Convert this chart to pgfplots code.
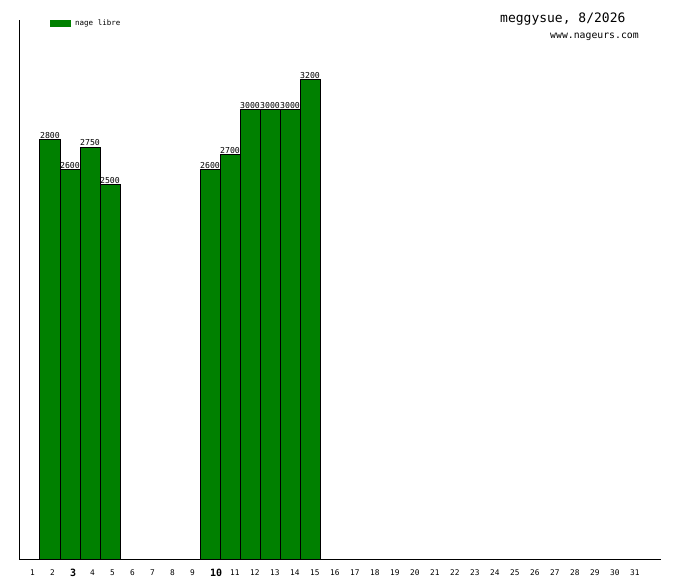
\documentclass[border=0pt]{standalone}
\usepackage{fontspec}
\setmainfont{DejaVu Sans Mono}
\usepackage{pgfplots}
\pgfplotsset{compat=1.18}
\definecolor{barg}{RGB}{0,128,0}
\begin{document}
\begin{tikzpicture}[x=1pt,y=1pt]
\fill[white] (0,0) rectangle (680,580);
\useasboundingbox (0,0) rectangle (680,580);
\begin{axis}[
  at={(20pt,20pt)}, anchor=south west,
  scale only axis, width=641pt, height=540pt,
  xmin=0.5, xmax=32.55, ymin=0, ymax=3600,
  axis x line*=bottom, axis y line*=left,
  axis line style={black, line width=1pt, -},
  ytick=\empty,
  xtick={1,...,31},
  xticklabels={1,2,{\bfseries\fontsize{10}{10}\selectfont 3},4,5,6,7,8,9,{\bfseries\fontsize{10}{10}\selectfont 10},11,12,13,14,15,16,17,18,19,20,21,22,23,24,25,26,27,28,29,30,31},
  major tick length=0pt,
  xticklabel style={font=\fontsize{7.8}{8}\selectfont, anchor=west, inner xsep=0pt, xshift=0pt, yshift=-13pt},
  clip=false,
]
\addplot[ybar, bar width=1, fill=barg, draw=black, line width=1pt,
  nodes near coords={\pgfmathprintnumber[1000 sep={},assume math mode=true]{\pgfplotspointmeta}},
  every node near coord/.append style={font=\fontsize{8.2}{8}\selectfont, inner sep=1pt, anchor=south, black}]
  coordinates {(2,2800) (3,2600) (4,2750) (5,2500) (10,2600) (11,2700) (12,3000) (13,3000) (14,3000) (15,3200)};
\end{axis}
\fill[barg] (50,553) rectangle (71,560);
\node[anchor=west, inner sep=0pt, font=\fontsize{7.5}{8}\selectfont] at (75,557) {nage libre};
\node[anchor=west, inner sep=0pt, font=\fontsize{13}{14}\selectfont] at (500,561) {meggysue, 8/2026};
\node[anchor=west, inner sep=0pt, font=\fontsize{9.8}{10}\selectfont] at (550,543) {www.nageurs.com};
\end{tikzpicture}
\end{document}
